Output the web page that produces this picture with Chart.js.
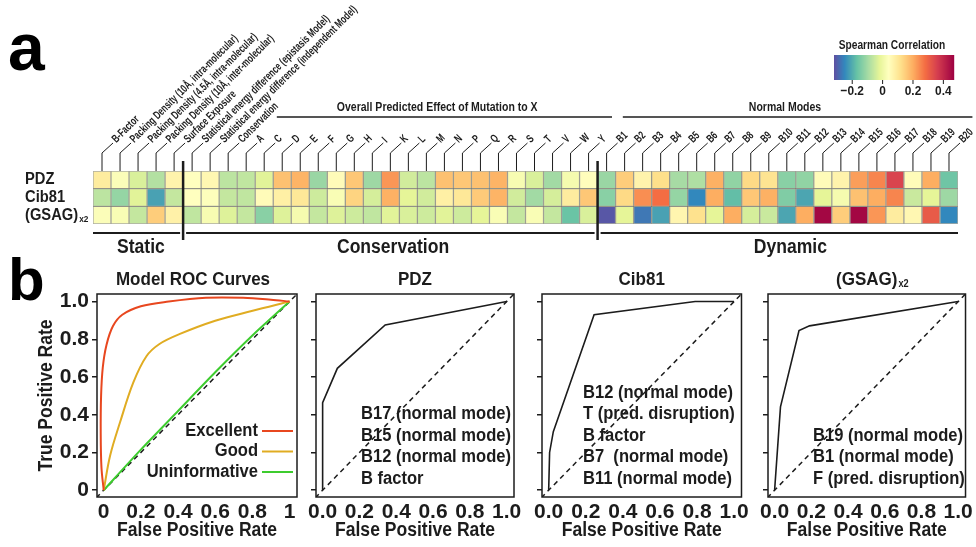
<!DOCTYPE html>
<html>
<head>
<meta charset="utf-8">
<script src="https://cdn.jsdelivr.net/npm/chart.js@4.4.0/dist/chart.umd.min.js"></script>
<style>
  html, body { margin: 0; padding: 0; background: #fff; }
  #wrap { position: relative; width: 976px; height: 547px; overflow: hidden; }
  canvas { position: absolute; }
</style>
</head>
<body>
<div id="wrap">
  <canvas id="heat" width="976" height="262" style="left:0;top:0"></canvas>
  <canvas id="roc0" width="310" height="297" style="left:0;top:250px"></canvas>
  <canvas id="roc1" width="230" height="297" style="left:296px;top:250px"></canvas>
  <canvas id="roc2" width="230" height="297" style="left:522px;top:250px"></canvas>
  <canvas id="roc3" width="228" height="297" style="left:748px;top:250px"></canvas>
</div>
<script>
// ---- panel a: heatmap data ----
const features = ['B-Factor', 'Packing Density (10Å, intra-molecular)', 'Packing Density (4.5Å, intra-molecular)',
  'Packing Density (10Å, inter-molecular)', 'Surface Exposure',
  'Statistical energy difference (epistasis Model)', 'Statistical energy difference (independent Model)', 'Conservation'];
const aminoAcids = ['A','C','D','E','F','G','H','I','K','L','M','N','P','Q','R','S','T','V','W','Y'];
const modes = ['B1','B2','B3','B4','B5','B6','B7','B8','B9','B10','B11','B12','B13','B14','B15','B16','B17','B18','B19','B20'];
const rowNames = ['PDZ', 'Cib81', '(GSAG)'];
const sections = ['Static', 'Conservation', 'Dynamic'];
const sectionStarts = [0, 5, 28];
const groupTitles = ['Overall Predicted Effect of Mutation to X', 'Normal Modes'];

const pdz = [0.09, 0.03, -0.035, -0.08, 0.07, 0.04, 0.06, -0.07, -0.065, -0.025, 0.17, 0.19, -0.11, 0.05, 0.16, -0.105,
  0.23, -0.045, -0.07, 0.17, 0.16, 0.17, 0.19, 0.02, -0.035, -0.1, 0.015, 0.045,
  -0.11, 0.15, 0.07, 0.12, -0.095, -0.085, 0.195, -0.12, 0.13, 0.11, -0.13, -0.12, 0.05, 0.07, 0.22, 0.25, 0.35, 0.05, 0.2, -0.16];
const cib81 = [-0.07, -0.115, -0.025, -0.215, -0.06, 0.04, 0.035, -0.06, -0.065, 0.05, 0.08, 0.1, -0.05, 0.025, 0.14, -0.04,
  0.195, -0.02, -0.045, 0.08, 0.1, 0.155, 0.19, -0.045, -0.1, -0.04, 0.09, 0.16,
  -0.13, 0.13, 0.24, 0.28, -0.115, -0.25, 0.2, -0.175, 0.16, 0.195, -0.14, -0.21, -0.02, 0.015, 0.17, 0.2, 0.25, -0.055, -0.02, -0.105];
const gsag = [0.03, 0.025, -0.06, 0.15, 0.075, -0.065, 0.02, -0.03, -0.06, -0.13, -0.03, 0.015, -0.06, -0.03, -0.05, -0.065,
  -0.025, -0.035, -0.05, -0.025, -0.05, -0.02, 0.025, -0.06, 0.025, -0.06, -0.165, -0.035,
  -0.31, -0.02, -0.27, -0.215, 0.065, 0.115, -0.02, 0.2, -0.04, -0.055, -0.21, 0.2, 0.46, 0.15, 0.46, 0.23, 0.09, 0.06, 0.31, -0.25];
const colorbarTicks = [-0.2, 0, 0.2, 0.4];

// ---- panel b: ROC data ----
const rocTicks = [0, 0.2, 0.4, 0.6, 0.8, 1];
const excellentFpr = [0, -0.012, -0.016, -0.014, -0.005, 0.015, 0.05, 0.1, 0.2, 0.35, 0.55, 0.75, 0.9, 1];
const excellentTpr = [0, 0.12, 0.3, 0.5, 0.65, 0.77, 0.87, 0.93, 0.975, 1.0, 1.02, 1.02, 1.01, 1];
const goodFpr = [0, 0.035, 0.088, 0.159, 0.23, 0.3, 0.407, 0.6, 0.796, 1];
const goodTpr = [0, 0.185, 0.36, 0.57, 0.71, 0.775, 0.827, 0.898, 0.95, 1];
const uninfFpr = [0, 0.2, 0.4, 0.6, 0.8, 1];
const uninfTpr = [0, 0.215, 0.42, 0.625, 0.82, 1];
const pdzFpr = [0, 0, 0.08, 0.34, 1];
const pdzTpr = [0, 0.464, 0.646, 0.876, 1];
const cibFpr = [0, 0.005, 0.025, 0.245, 0.79, 1];
const cibTpr = [0, 0.2, 0.31, 0.93, 1, 1];
const gsagFpr = [0, 0.032, 0.133, 0.19, 1];
const gsagTpr = [0, 0.442, 0.846, 0.871, 1];
const diag = [-0.04, 1.04];
const modelNames = ['Excellent', 'Good', 'Uninformative'];
const pdzNotes = ['B17 (normal mode)', 'B15 (normal mode)', 'B12 (normal mode)', 'B factor'];
const cibNotes = ['B12 (normal mode)', 'T (pred. disruption)', 'B factor', 'B7  (normal mode)', 'B11 (normal mode)'];
const gsagNotes = ['B19 (normal mode)', 'B1 (normal mode)', 'F (pred. disruption)'];

const FONT = '"Liberation Sans", Arial, sans-serif';
const INK = '#1c1c1c';
const RED = '#e8471f', GOLD = '#e0ac22', GREEN = '#3dcc2e';

const spectralStops = [[-0.32, '#5e4fa2'], [-0.25, '#3288bd'], [-0.17, '#66c2a5'], [-0.09, '#abdda4'], [-0.02, '#e6f598'],
  [0.04, '#ffffbf'], [0.12, '#fee08b'], [0.2, '#fdae61'], [0.28, '#f46d43'], [0.36, '#d53e4f'], [0.47, '#9e0142']];

function hexRgb(h) { return [1, 3, 5].map(i => parseInt(h.slice(i, i + 2), 16)); }
function spectral(v) {
  const s = spectralStops;
  if (v <= s[0][0]) return s[0][1];
  for (let i = 1; i < s.length; i++) {
    if (v <= s[i][0]) {
      const t = (v - s[i - 1][0]) / (s[i][0] - s[i - 1][0]);
      const a = hexRgb(s[i - 1][1]), b = hexRgb(s[i][1]);
      return 'rgb(' + a.map((c, k) => Math.round(c + (b[k] - c) * t)).join(',') + ')';
    }
  }
  return s[s.length - 1][1];
}

// condensed bold text (k = horizontal squeeze)
function text(ctx, s, x, y, size, align, base, k) {
  k = k || 0.92;
  ctx.save();
  ctx.translate(x, y);
  ctx.scale(k, 1);
  ctx.font = 'bold ' + size + 'px ' + FONT;
  ctx.fillStyle = INK;
  ctx.textAlign = align || 'left';
  ctx.textBaseline = base || 'middle';
  ctx.fillText(s, 0, 0);
  ctx.restore();
}
function textWidth(ctx, s, size, k) {
  ctx.font = 'bold ' + size + 'px ' + FONT;
  return ctx.measureText(s).width * (k || 0.92);
}
function line(ctx, pts, w) {
  ctx.beginPath();
  ctx.moveTo(pts[0][0], pts[0][1]);
  pts.slice(1).forEach(p => ctx.lineTo(p[0], p[1]));
  ctx.lineWidth = w;
  ctx.strokeStyle = INK;
  ctx.stroke();
}

// ---- heatmap ----
const columns = features.concat(aminoAcids, modes);
const heatRows = [pdz, cib81, gsag];

const heatDecor = {
  id: 'heatDecor',
  afterDraw(chart) {
    const ctx = chart.ctx, xs = chart.scales.x, ys = chart.scales.y, area = chart.chartArea;
    const cw = (area.right - area.left) / columns.length;
    const colX = f => area.left + f * cw;
    ctx.save();
    ctx.font = 'bold 66px ' + FONT;
    ctx.fillStyle = '#000'; ctx.textAlign = 'left'; ctx.textBaseline = 'alphabetic';
    ctx.fillText('a', 8, 70);

    // column labels with leaders
    columns.forEach((name, i) => {
      const cx = xs.getPixelForValue(i);
      line(ctx, [[cx, area.top], [cx, area.top - 18], [cx + 11, area.top - 28]], 1);
      ctx.save();
      ctx.translate(cx + 12, area.top - 30);
      ctx.rotate(-Math.PI / 4);
      text(ctx, name, 0, 0, 11.5, 'left', 'middle', 0.7);
      ctx.restore();
    });

    // group titles
    text(ctx, groupTitles[0], colX(19.1), 108, 12.5, 'center', 'middle', 0.84);
    line(ctx, [[colX(10.2), 117], [colX(28.8), 117]], 1.5);
    text(ctx, groupTitles[1], colX(38.4), 108, 12.5, 'center', 'middle', 0.84);
    line(ctx, [[colX(29.4), 117], [colX(48.8), 117]], 1.5);

    // row labels
    rowNames.forEach((n, r) => {
      const y = ys.getPixelForValue(2.5 - r);
      text(ctx, n, 25, y, 16, 'left');
      if (r === 2) {
        text(ctx, 'x2', 25 + textWidth(ctx, n, 16) + 1, y + 4, 9, 'left');
      }
    });

    // section dividers and brackets
    const breaks = sectionStarts.slice(1).map(c => (xs.getPixelForValue(c - 1) + xs.getPixelForValue(c)) / 2);
    breaks.forEach(b => line(ctx, [[b, 161], [b, 240]], 2.5));
    const edges = [area.left].concat(breaks, [area.right]);
    const labelAt = [2.66, 16.65, 38.7];
    sections.forEach((s, k) => {
      const x0 = edges[k] + (k ? 3 : 0), x1 = edges[k + 1] - (k < 2 ? 3 : 0);
      line(ctx, [[x0, 233], [x1, 233]], 2);
      text(ctx, s, colX(labelAt[k]), 248, 19.5, 'center', 'middle', 0.9);
    });

    // colour bar
    const cbL = 834, cbW = 120, cbT = 55, cbH = 25, vMin = -0.32, vMax = 0.47;
    const cbX = v => cbL + (v - vMin) / (vMax - vMin) * cbW;
    for (let p = 0; p < cbW; p++) {
      ctx.fillStyle = spectral(vMin + (p + 0.5) / cbW * (vMax - vMin));
      ctx.fillRect(cbL + p, cbT, 1.2, cbH);
    }
    text(ctx, 'Spearman Correlation', cbL + cbW / 2 - 2, 46, 12, 'center', 'middle', 0.85);
    colorbarTicks.forEach(v => {
      const x = cbX(v);
      line(ctx, [[x, cbT + cbH], [x, cbT + cbH + 4]], 1);
      text(ctx, v === 0 ? '0' : (v < 0 ? '\u2212' + Math.abs(v).toFixed(1) : v.toFixed(1)), x, 91, 13.5, 'center', 'middle', 0.88);
    });
    ctx.restore();
  }
};

new Chart(document.getElementById('heat'), {
  type: 'bar',
  data: {
    labels: columns,
    datasets: heatRows.map((vals, r) => ({
      label: rowNames[r],
      data: vals.map(() => [2 - r, 3 - r]),
      backgroundColor: vals.map(spectral),
      borderColor: 'rgba(70,70,50,0.45)',
      borderWidth: 1,
      borderSkipped: false,
      barPercentage: 1,
      categoryPercentage: 1,
      grouped: false
    }))
  },
  options: {
    responsive: false,
    animation: false,
    layout: { padding: { left: 93, right: 18, top: 171, bottom: 38 } },
    scales: { x: { display: false }, y: { display: false, min: 0, max: 3 } },
    plugins: { legend: { display: false }, tooltip: { enabled: false } }
  },
  plugins: [heatDecor]
});

// ---- ROC panels ----
const pts = (xs, ys) => xs.map((x, i) => ({ x: x, y: ys[i] }));
const curve = (xs, ys, color, w, tension) => ({ data: pts(xs, ys), borderColor: color, borderWidth: w, tension: tension, pointRadius: 0, fill: false });
const diagSet = () => ({ data: pts(diag, diag), borderColor: INK, borderWidth: 1.5, borderDash: [5, 4], pointRadius: 0 });

function panel(id, opt) {
  const tickFont = { family: FONT, size: 21, weight: 'bold' };
  return new Chart(document.getElementById(id), {
    type: 'line',
    data: { datasets: opt.datasets },
    options: {
      responsive: false,
      animation: false,
      layout: { padding: { left: opt.padLeft, right: opt.padRight, top: 44, bottom: 0 } },
      scales: {
        x: {
          type: 'linear', min: -0.036, max: 1.04,
          afterBuildTicks: s => { s.ticks = rocTicks.map(v => ({ value: v })); },
          afterFit: s => { s.height = 50; },
          grid: { display: false, drawTicks: false },
          border: { display: false },
          ticks: { color: INK, padding: 3, autoSkip: false, maxRotation: 0, font: tickFont, callback: opt.xFmt }
        },
        y: {
          type: 'linear', min: -0.036, max: 1.04,
          afterBuildTicks: s => { s.ticks = rocTicks.map(v => ({ value: v })); },
          afterFit: s => { s.width = opt.yWidth; },
          grid: { drawOnChartArea: false, drawTicks: true, tickLength: 5, color: INK, lineWidth: 1.5 },
          border: { display: false },
          ticks: { display: opt.yLabels, color: INK, padding: 3, font: tickFont,
                   callback: v => v === 0 ? '0' : v.toFixed(1) }
        }
      },
      plugins: { legend: { display: false }, tooltip: { enabled: false } }
    },
    plugins: [{
      id: 'decor',
      afterDraw(chart) {
        const ctx = chart.ctx, a = chart.chartArea;
        ctx.save();
        ctx.lineWidth = 1.5; ctx.strokeStyle = INK;
        ctx.strokeRect(a.left, a.top, a.right - a.left, a.bottom - a.top);
        const cx = (a.left + a.right) / 2;
        text(ctx, opt.title, cx + (opt.titleShift || 0), 30, 18.5, 'center');
        if (opt.titleSub) {
          text(ctx, opt.titleSub, cx + textWidth(ctx, opt.title, 18.5) / 2 + 1, 34, 10, 'left');
        }
        text(ctx, 'False Positive Rate', cx, 281, 19.5, 'center', 'middle', 0.9);
        if (opt.notes) {
          opt.notes.forEach((n, i) => {
            text(ctx, n, a.left + opt.notesX, a.bottom - 18 - (opt.notes.length - 1 - i) * 21.6, 18, 'left');
          });
        }
        if (opt.extra) opt.extra(ctx, a);
        ctx.restore();
      }
    }]
  });
}

const fmt0 = v => (v === 0 || v === 1) ? String(v) : v.toFixed(1);
const fmt1 = v => v.toFixed(1);

panel('roc0', {
  padLeft: 0, padRight: 13, yWidth: 97, yLabels: true, xFmt: fmt0,
  title: 'Model ROC Curves', titleShift: -4,
  datasets: [
    curve(excellentFpr, excellentTpr, RED, 2, 0.35),
    curve(goodFpr, goodTpr, GOLD, 2, 0.35),
    curve(uninfFpr, uninfTpr, GREEN, 2, 0.2),
    diagSet()
  ],
  extra(ctx, a) {
    ctx.font = 'bold 60px ' + FONT;
    ctx.fillStyle = '#000'; ctx.textAlign = 'left'; ctx.textBaseline = 'alphabetic';
    ctx.fillText('b', 8, 50);
    ctx.save();
    ctx.translate(47, (a.top + a.bottom) / 2);
    ctx.rotate(-Math.PI / 2);
    text(ctx, 'True Positive Rate', 0, 0, 19.5, 'center', 'middle', 0.9);
    ctx.restore();
    [RED, GOLD, GREEN].forEach((c, i) => {
      const y = a.bottom - 66 + i * 20.5;
      text(ctx, modelNames[i], a.right - 39, y, 18, 'right');
      ctx.beginPath(); ctx.moveTo(a.right - 35, y); ctx.lineTo(a.right - 4, y);
      ctx.strokeStyle = c; ctx.lineWidth = 2; ctx.stroke();
    });
  }
});
panel('roc1', {
  padLeft: 0, padRight: 12, yWidth: 20, yLabels: false, xFmt: fmt1,
  title: 'PDZ', notes: pdzNotes, notesX: 45,
  datasets: [curve(pdzFpr, pdzTpr, INK, 1.6, 0), diagSet()]
});
panel('roc2', {
  padLeft: 0, padRight: 9, yWidth: 20, yLabels: false, xFmt: fmt1,
  title: 'Cib81', notes: cibNotes, notesX: 41,
  datasets: [curve(cibFpr, cibTpr, INK, 1.6, 0), diagSet()]
});
panel('roc3', {
  padLeft: 0, padRight: 6, yWidth: 20, yLabels: false, xFmt: fmt1,
  title: '(GSAG)', titleSub: 'x2', notes: gsagNotes, notesX: 45,
  datasets: [curve(gsagFpr, gsagTpr, INK, 1.6, 0), diagSet()]
});
</script>
</body>
</html>
